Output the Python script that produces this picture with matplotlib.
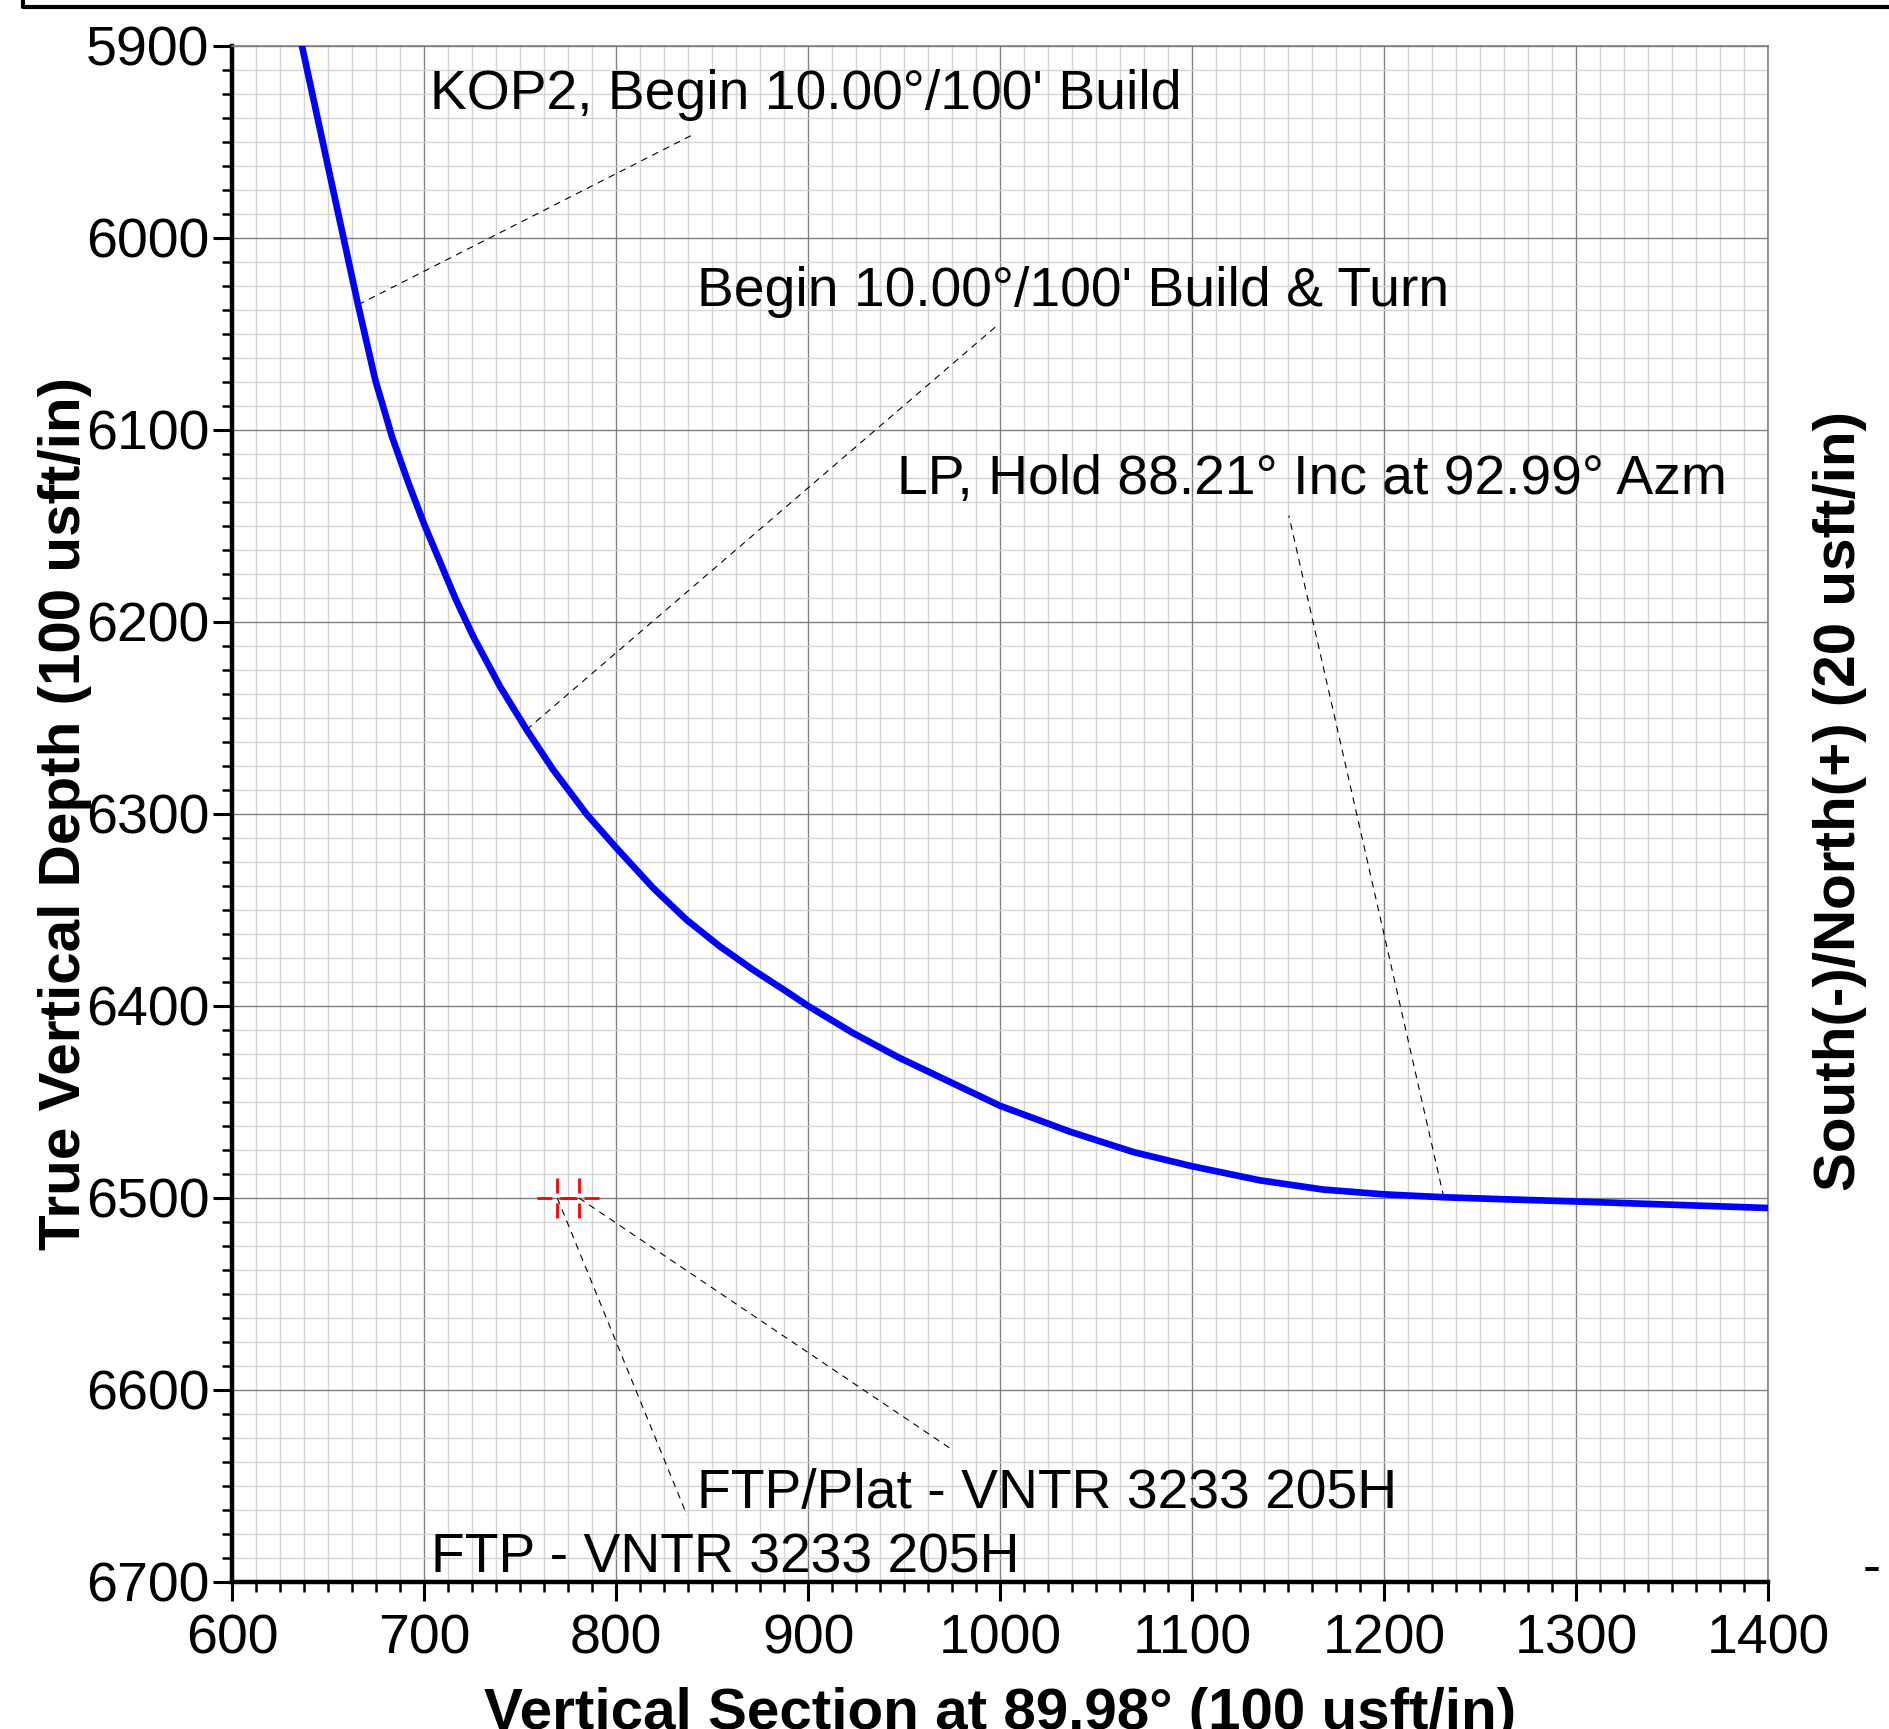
import numpy as np
import matplotlib.pyplot as plt
from matplotlib.path import Path
from matplotlib.lines import Line2D
from matplotlib.ticker import MultipleLocator

plt.rcParams['font.family'] = ['Liberation Sans', 'DejaVu Sans']

# well path (vertical section, true vertical depth)
vs = [636.3, 650.5, 665.5, 674.5, 683.2, 691.9, 700.0, 716.5, 725.5, 739.4,
      753.3, 767.1, 784.5, 800.1, 819.2, 836.5, 853.9, 871.2, 888.6, 900.0,
      923.2, 947.5, 1000.0, 1036.5, 1069.5, 1099.7, 1135.3, 1168.3, 1200.0, 1231.1,
      1260.5, 1300.0, 1400.0]
tvd = [5900.0, 5965.7, 6034.8, 6074.0, 6103.5, 6128.0, 6149.2, 6188.4, 6207.5, 6233.5,
       6256.1, 6276.9, 6300.0, 6317.7, 6338.5, 6355.0, 6368.9, 6381.1, 6392.4, 6400.0,
       6414.0, 6427.0, 6452.0, 6465.5, 6476.1, 6483.4, 6490.8, 6495.6, 6498.1, 6499.6,
       6500.6, 6501.8, 6505.2]

# targets (red crosshairs)
tgt_vs = [769.3, 780.6]
tgt_tvd = [6500.0, 6500.0]

# annotations: text, text position, leader start, leader end
labels = ["KOP2, Begin 10.00°/100' Build",
          "Begin 10.00°/100' Build & Turn",
          "LP, Hold 88.21° Inc at 92.99° Azm",
          "FTP/Plat - VNTR 3233 205H",
          "FTP - VNTR 3233 205H"]
label_x = [703.0, 842.0, 946.4, 842.0, 703.5]
label_y = [5932.7, 6035.5, 6133.3, 6661.6, 6694.8]
lead_x0 = [665.5, 753.3, 1231.1, 780.6, 769.3]
lead_y0 = [6034.8, 6256.1, 6499.6, 6500.0, 6500.0]
lead_x1 = [840.3, 998.5, 1150.4, 974.7, 836.8]
lead_y1 = [5946.0, 6045.5, 6144.6, 6630.9, 6665.1]

fig = plt.figure(figsize=(18.89, 17.29), dpi=100)
ax = fig.add_axes([232.3 / 1889, 1 - 1582 / 1729, (1768 - 232.3) / 1889, (1582 - 46) / 1729])

ax.set_xlim(600, 1400)
ax.set_ylim(6700, 5900)

ax.xaxis.set_major_locator(MultipleLocator(100))
ax.xaxis.set_minor_locator(MultipleLocator(12.5))
ax.yaxis.set_major_locator(MultipleLocator(100))
ax.yaxis.set_minor_locator(MultipleLocator(12.5))
ax.grid(which='major', color='#7f7f7f', lw=1.0, zorder=0)
ax.grid(which='minor', color='#d4d4d4', lw=1.0, zorder=0)
ax.set_axisbelow(True)

for s in ['top', 'right']:
    ax.spines[s].set_color('#7f7f7f')
    ax.spines[s].set_linewidth(1.2)
for s in ['left', 'bottom']:
    ax.spines[s].set_color('black')
    ax.spines[s].set_linewidth(3.2)

ax.tick_params(which='major', length=14, width=2.2, labelsize=40, pad=2.5)
ax.tick_params(which='minor', length=7, width=1.8)
ax.tick_params(axis='x', which='major', pad=9)

ax.plot(vs, tvd, color='#0000ff', lw=4.8, zorder=3, solid_joinstyle='round')

# crosshair with open centre
g = 0.27
cross = Path([(-1, 0), (-g, 0), (g, 0), (1, 0), (0, -1), (0, -g), (0, g), (0, 1)],
             [Path.MOVETO, Path.LINETO] * 4)
ax.plot(tgt_vs, tgt_tvd, ls='none', marker=cross, markersize=29,
        markeredgecolor='#ff0000', markeredgewidth=2.0, zorder=4)

for i in range(len(labels)):
    ax.plot([lead_x0[i], lead_x1[i]], [lead_y0[i], lead_y1[i]], color='black',
            lw=0.8, dashes=(6, 5), zorder=2)
    ax.text(label_x[i], label_y[i], labels[i], fontsize=39.8, ha='left', va='baseline', zorder=5)

ax.set_xlabel('Vertical Section at 89.98° (100 usft/in)', fontsize=42, fontweight='bold', labelpad=15)
ax.set_ylabel('True Vertical Depth (100 usft/in)', fontsize=42, fontweight='bold', va='center')
ax.yaxis.set_label_coords((65 - 232.3) / 1535.7, 0.5)

fig.text(1840 / 1889, 1 - 801 / 1729, 'South(-)/North(+) (20 usft/in)', fontsize=42,
         fontweight='bold', rotation=90, ha='center', va='center')
fig.text(1872 / 1889, 1 - 1569 / 1729, '-', fontsize=39, ha='center', va='center')

# frame edge at top of sheet
fig.add_artist(Line2D([23 / 1889, 23 / 1889, 1.0], [1.0, 1 - 7 / 1729, 1 - 7 / 1729],
                      transform=fig.transFigure, color='black', lw=3.0))

fig.savefig('out.png', dpi=100)
